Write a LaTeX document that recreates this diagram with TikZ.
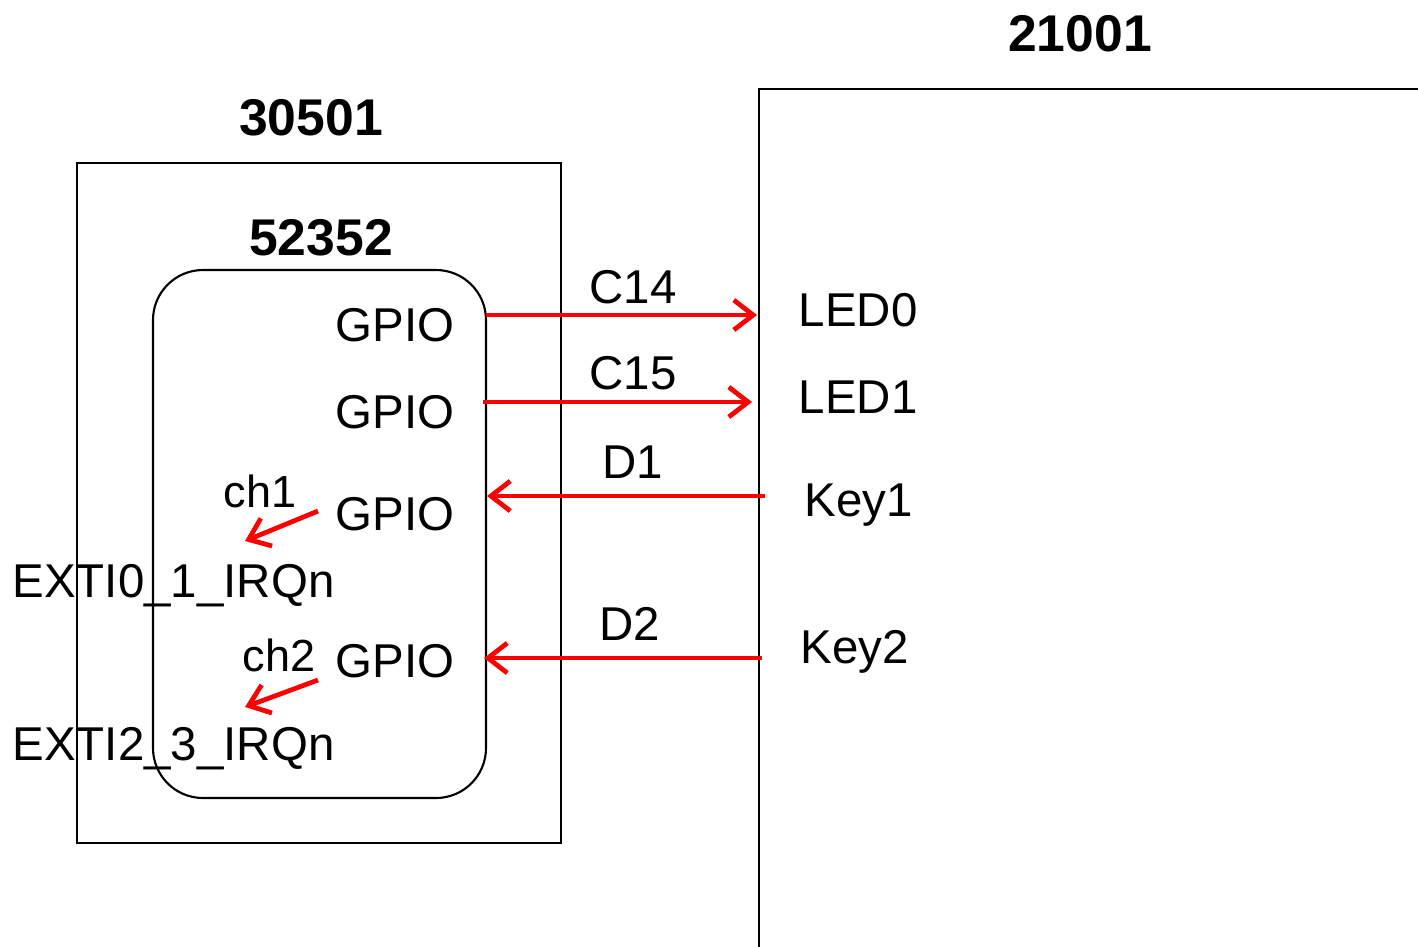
\documentclass[tikz,border=0pt]{standalone}
\usepackage{fontspec}
\setmainfont{Liberation Sans}
\usetikzlibrary{arrows.meta}

\begin{document}
\begin{tikzpicture}[
    txt/.style={font=\fontsize{13.5}{16}\selectfont, inner sep=0pt},
    small/.style={font=\fontsize{12.8}{15}\selectfont, inner sep=0pt},
    title/.style={font=\fontsize{14.7}{17}\selectfont\bfseries, inner sep=0pt},
    frame/.style={draw, line width=0.6pt, inner sep=0pt},
    sig/.style={red, line width=1.35pt, -{Straight Barb[length=5.5pt,width=8.5pt]}}]
    \useasboundingbox (0,0) rectangle (14.18,-9.46);
    \clip (0,0) rectangle (14.18,-9.46);

    % Boards
    \node[frame, minimum width=4.84cm, minimum height=6.80cm] (mcu) at (3.19,-5.03) {};
    \node[frame, rounded corners=0.5cm, minimum width=3.33cm, minimum height=5.28cm] (core) at (3.195,-5.34) {};
    \node[frame, anchor=north west, minimum width=8cm, minimum height=10cm] (board) at (7.58,-0.88) {};

    % Titles
    \node[title, anchor=base] (t30501) at (3.11,-1.35) {30501};
    \node[title, anchor=base] (t52352) at (3.21,-2.55) {52352};
    \node[title, anchor=base] (t21001) at (10.80,-0.51) {21001};

    % GPIO pins
    \node[txt, anchor=base east] (gpio0) at (4.55,-3.41) {GPIO};
    \node[txt, anchor=base east] (gpio1) at (4.55,-4.28) {GPIO};
    \node[txt, anchor=base east] (gpio2) at (4.55,-5.30) {GPIO};
    \node[txt, anchor=base east] (gpio3) at (4.55,-6.77) {GPIO};

    % Board side
    \node[txt, anchor=base west] (led0) at (7.98,-3.26) {LED0};
    \node[txt, anchor=base west] (led1) at (7.98,-4.13) {LED1};
    \node[txt, anchor=base west] (key1) at (8.04,-5.16) {Key1};
    \node[txt, anchor=base west] (key2) at (8.00,-6.63) {Key2};

    % Interrupts
    \node[small, anchor=base east] (ch1) at (2.97,-5.07) {ch1};
    \node[small, anchor=base east] (ch2) at (3.16,-6.71) {ch2};
    \node[txt, anchor=base west] (exti0) at (0.12,-5.97) {EXTI0\_1\_IRQn};
    \node[txt, anchor=base west] (exti2) at (0.12,-7.60) {EXTI2\_3\_IRQn};

    % Signal ends
    \coordinate (c14a) at (4.86,-3.15);
    \coordinate (c14b) at (7.57,-3.15);
    \coordinate (c15a) at (4.83,-4.02);
    \coordinate (c15b) at (7.52,-4.02);
    \coordinate (d1a) at (7.65,-4.96);
    \coordinate (d1b) at (4.87,-4.96);
    \coordinate (d2a) at (7.62,-6.58);
    \coordinate (d2b) at (4.84,-6.58);
    \coordinate (ch1a) at (3.18,-5.11);
    \coordinate (ch1b) at (2.45,-5.41);
    \coordinate (ch2a) at (3.18,-6.80);
    \coordinate (ch2b) at (2.45,-7.07);

    \draw[sig] (c14a) -- (c14b);
    \draw[sig] (c15a) -- (c15b);
    \draw[sig] (d1a) -- (d1b);
    \draw[sig] (d2a) -- (d2b);
    \draw[sig] (ch1a) -- (ch1b);
    \draw[sig] (ch2a) -- (ch2b);

    % Signal names
    \node[txt, anchor=base] (lc14) at (6.33,-3.03) {C14};
    \node[txt, anchor=base] (lc15) at (6.33,-3.89) {C15};
    \node[txt, anchor=base] (ld1) at (6.33,-4.78) {D1};
    \node[txt, anchor=base] (ld2) at (6.30,-6.40) {D2};
\end{tikzpicture}
\end{document}
